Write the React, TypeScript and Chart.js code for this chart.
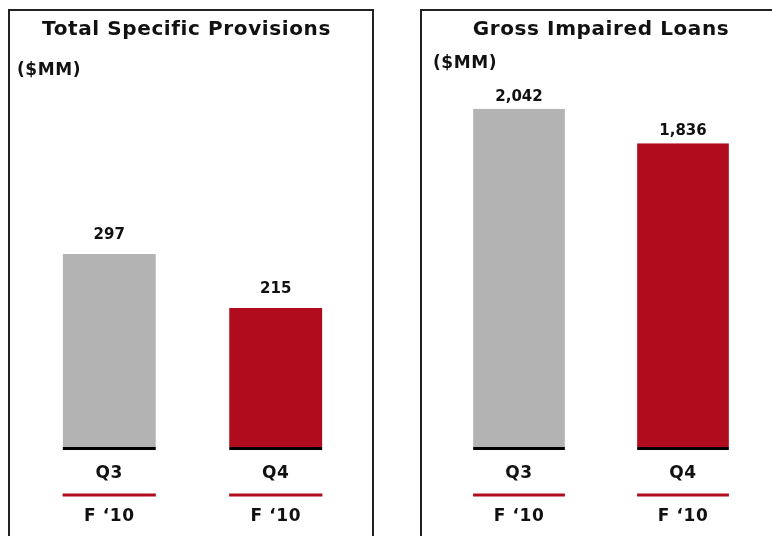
import React, { useEffect, useRef } from "react";
import { Chart, registerables } from "chart.js";

Chart.register(...registerables);

const categories = ["Q3", "Q4"];
const periodLabel = "F \u201810";
const provisionsValues = [297, 215];
const provisionsLabels = ["297", "215"];
const impairedValues = [2042, 1836];
const impairedLabels = ["2,042", "1,836"];
const barColors = ["#B3B3B3", "#B00C1E"];
const ruleColor = "#B00C1E";

const FONT = '"DejaVu Sans", Verdana, sans-serif';

const decorPlugin = {
  id: "decor",
  beforeDraw(chart: any) {
    chart.ctx.letterSpacing = "0.6px";
  },
  afterDatasetsDraw(chart: any, _args: any, opts: any) {
    const ctx = chart.ctx;
    const meta = chart.getDatasetMeta(0);
    const xs = chart.scales.x;
    ctx.save();
    meta.data.forEach((bar: any, i: number) => {
      const { x, y, width } = bar.getProps(["x", "y", "width"], true);
      ctx.letterSpacing = "0px";
      ctx.fillStyle = "#111";
      ctx.font = `bold 15px ${FONT}`;
      ctx.textAlign = "center";
      ctx.textBaseline = "middle";
      ctx.fillText(opts.labels[i], x, y - opts.labelGap);
      ctx.fillStyle = ruleColor;
      ctx.fillRect(x - width / 2, xs.top + opts.ruleOffset - 1.5, width, 3);
    });
    ctx.restore();
  },
  afterDraw(chart: any, _args: any, opts: any) {
    const ctx = chart.ctx;
    ctx.save();
    ctx.letterSpacing = "0.6px";
    ctx.fillStyle = "#111";
    ctx.textBaseline = "middle";
    ctx.font = `bold 20px ${FONT}`;
    ctx.textAlign = "center";
    ctx.fillText(opts.title, opts.titleX, opts.titleY);
    ctx.font = `bold 17px ${FONT}`;
    ctx.textAlign = "left";
    ctx.fillText(opts.unit, opts.unitX, opts.unitY);
    ctx.restore();
  },
};

type PanelProps = {
  left: number;
  width: number;
  canvasWidth: number;
  values: number[];
  labels: string[];
  max: number;
  padding: { left: number; right: number; top: number; bottom: number };
  title: string;
  titleX: number;
  unitX: number;
  unitY: number;
  labelGap: number;
  rightBorder: boolean;
};

function BarPanel(p: PanelProps) {
  const ref = useRef<HTMLCanvasElement>(null);
  useEffect(() => {
    const chart = new Chart(ref.current as HTMLCanvasElement, {
      type: "bar",
      data: {
        labels: categories.map((c) => [c, periodLabel]),
        datasets: [
          {
            data: p.values,
            backgroundColor: barColors,
            borderColor: "#000",
            borderWidth: { top: 0, left: 0, right: 0, bottom: 3 },
            borderSkipped: false,
            categoryPercentage: 1,
            barPercentage: 0.56,
          } as any,
        ],
      },
      options: {
        animation: false,
        responsive: false,
        maintainAspectRatio: false,
        devicePixelRatio: 1,
        layout: { padding: p.padding },
        plugins: {
          legend: { display: false },
          tooltip: { enabled: false },
          title: { display: false },
          decor: {
            labels: p.labels,
            labelGap: p.labelGap,
            ruleOffset: 45,
            title: p.title,
            titleX: p.titleX,
            titleY: 19,
            unit: "($MM)",
            unitX: p.unitX,
            unitY: p.unitY,
          },
        } as any,
        scales: {
          x: {
            grid: { display: false, drawTicks: false },
            border: { display: false },
            ticks: {
              padding: 2,
              color: "#111",
              font: { family: FONT, size: 17, weight: "bold", lineHeight: "43px" },
            },
          },
          y: { display: false, min: 0, max: p.max },
        },
      },
      plugins: [decorPlugin as any],
    });
    return () => chart.destroy();
  }, []);
  return (
    <div
      style={{
        position: "absolute",
        left: p.left,
        top: 9,
        width: p.width,
        height: 560,
        boxSizing: "border-box",
        borderTop: "2px solid #222",
        borderLeft: "2px solid #222",
        borderRight: p.rightBorder ? "2px solid #222" : "none",
        background: "#fff",
      }}
    >
      <canvas ref={ref} width={p.canvasWidth} height={540} style={{ display: "block" }} />
    </div>
  );
}

export default function App() {
  return (
    <div
      style={{
        position: "absolute",
        left: 0,
        top: 0,
        width: 772,
        height: 536,
        overflow: "hidden",
        background: "#fff",
      }}
    >
      <BarPanel
        left={8}
        width={366}
        canvasWidth={362}
        values={provisionsValues}
        labels={provisionsLabels}
        max={500}
        padding={{ left: 16, right: 13, top: 109, bottom: 11 }}
        title="Total Specific Provisions"
        titleX={176.5}
        unitX={7}
        unitY={60}
        labelGap={19}
        rightBorder={true}
      />
      <BarPanel
        left={420}
        width={370}
        canvasWidth={350}
        values={impairedValues}
        labels={impairedLabels}
        max={2400}
        padding={{ left: 15, right: 7, top: 38, bottom: 11 }}
        title="Gross Impaired Loans"
        titleX={179}
        unitX={11}
        unitY={53}
        labelGap={12}
        rightBorder={false}
      />
    </div>
  );
}
